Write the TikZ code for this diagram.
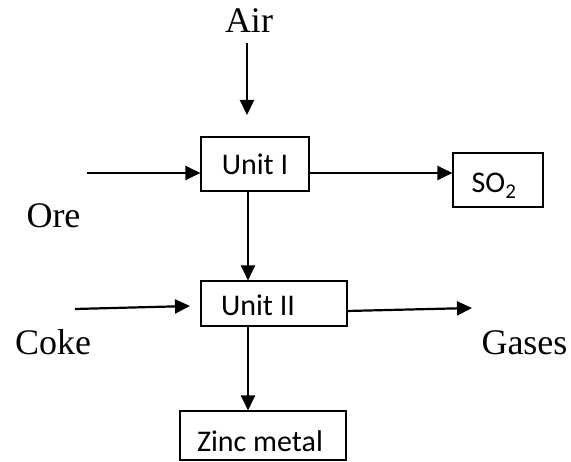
\documentclass[tikz,border=0pt]{standalone}
\usepackage{fontspec}
\setmainfont{Liberation Serif}
\newfontfamily\carl{Carlito}
\usetikzlibrary{arrows.meta}
\begin{document}
\begin{tikzpicture}[x=1pt,y=-1pt,
  arr/.style={line width=2.2pt,-{Triangle[length=15pt,width=14pt]}},
  unitbox/.style={draw,line width=1.1pt,inner sep=0pt,font=\carl\fontsize{30}{34}\selectfont,text depth=0pt},
  label text/.style={anchor=base,inner sep=0pt,font=\fontsize{36}{40}\selectfont}]
\useasboundingbox[fill=white] (0,0) rectangle (571,462);
% boxes
\node[unitbox,minimum width=108pt,minimum height=54pt,text height=22pt] (u1) at (255,164) {Unit I};
\node[unitbox,minimum width=90pt,minimum height=54pt,text height=26pt] (so2) at (498,180) {SO\textsubscript{2}\hspace*{8pt}};
\node[unitbox,minimum width=146pt,minimum height=45pt,text height=25pt] (u2) at (274,303.5) {Unit II\hspace*{32pt}};
\node[unitbox,minimum width=166pt,minimum height=49pt,text height=33pt] (zn) at (263,435.5) {Zinc metal\hspace*{6pt}};
% labels
\node[label text] (air) at (249,33) {Air};
\node[label text] (ore) at (53.5,228) {Ore};
\node[label text] (coke) at (53,355) {Coke};
\node[label text] (gases) at (524.5,355) {Gases};
% helper coordinates
\coordinate (v1) at (248,0);
\coordinate (airS) at (247,43);
\coordinate (airE) at (247,115);
\coordinate (oreS) at (87,173);
\coordinate (h1) at (0,173);
\coordinate (cokeS) at (75,309);
\coordinate (cokeE) at (190,306);
\coordinate (gasS) at (347,311);
\coordinate (gasE) at (472,308);
% connectors
\draw[arr] (airS) -- (airE);
\draw[arr] (oreS) -- (oreS -| u1.west);
\draw[arr] (u1.east |- h1) -- (so2.west |- h1);
\draw[arr] (u1.south -| v1) -- (u2.north -| v1);
\draw[arr] (cokeS) -- (cokeE);
\draw[arr] (gasS) -- (gasE);
\draw[arr] (u2.south -| v1) -- (zn.north -| v1);
\end{tikzpicture}
\end{document}
